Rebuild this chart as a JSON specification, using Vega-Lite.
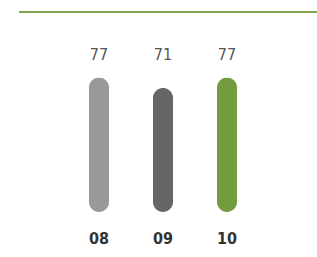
{
  "$schema": "https://vega.github.io/schema/vega-lite/v6.json",
  "width": 298,
  "height": 200,
  "padding": {"left": 19, "top": 12, "right": 0, "bottom": 45},
  "autosize": {"type": "none"},
  "config": {"view": {"stroke": null}},
  "data": {"values": [
    {"year": "08", "value": 77},
    {"year": "09", "value": 71},
    {"year": "10", "value": 77}
  ]},
  "layer": [
    {
      "mark": {"type": "bar", "width": 20, "cornerRadius": 10},
      "encoding": {
        "x": {"field": "year", "type": "nominal", "sort": null,
              "scale": {"paddingInner": 0, "paddingOuter": 0.828, "align": 0.4528},
              "axis": {"title": null, "domain": false, "ticks": false, "labelAngle": 0,
                       "labelFont": "DejaVu Sans Condensed", "labelFontWeight": "bold",
                       "labelFontSize": 16, "labelColor": "#333333", "labelPadding": 18}},
        "y": {"field": "value", "type": "quantitative",
              "scale": {"domain": [0, 114.5], "nice": false, "zero": true},
              "axis": null},
        "color": {"field": "year", "type": "nominal",
                  "scale": {"domain": ["08", "09", "10"], "range": ["#999999", "#666666", "#739c3f"]},
                  "legend": null}
      }
    },
    {
      "mark": {"type": "text", "baseline": "alphabetic",
               "font": "DejaVu Sans Condensed", "fontSize": 16, "color": "#555555"},
      "encoding": {
        "x": {"field": "year", "type": "nominal", "sort": null},
        "y": {"datum": 87, "type": "quantitative"},
        "text": {"field": "value", "type": "quantitative"}
      }
    },
    {
      "mark": {"type": "rule", "color": "#6f9a3a", "strokeWidth": 1},
      "encoding": {"y": {"datum": 114.5, "type": "quantitative"}}
    }
  ]
}
